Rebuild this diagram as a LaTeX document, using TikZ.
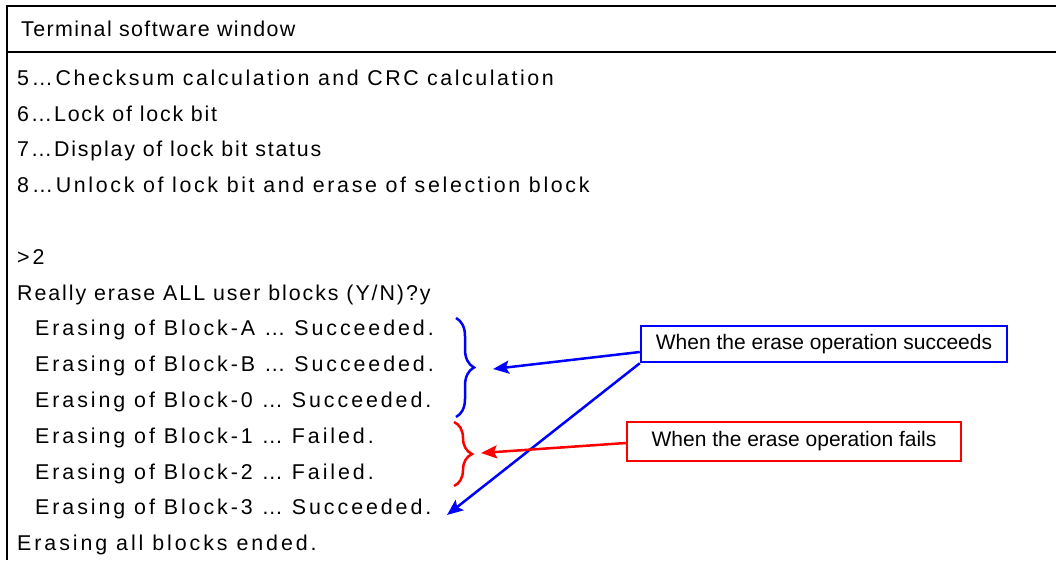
\documentclass[tikz,border=0pt]{standalone}
\usepackage{fontspec}
\setmainfont{Liberation Sans}
\newfontfamily\headfont[LetterSpace=6.5]{Liberation Sans}
\usetikzlibrary{arrows.meta,decorations.pathreplacing}

\tikzset{
  frame/.style={line width=2pt, black},
  termline/.style={anchor=base west, inner sep=0pt,
    font={\fontspec[LetterSpace=#1]{Liberation Sans}\fontsize{21.4pt}{25pt}\selectfont}},
  termline/.default=13.7,
  headline/.style={anchor=base west, inner sep=0pt,
    font=\headfont\fontsize{21.4pt}{25pt}\selectfont},
  callout/.style={rectangle, line width=2.5pt, inner sep=0pt, fill=white,
    font=\fontsize{21pt}{25pt}\selectfont},
  bracket/.style={line width=2.5pt, decorate,
    decoration={brace, amplitude=18pt, aspect=0.5}},
  pointer/.style={line width=2.5pt,
    -{Stealth[length=16pt, width=13pt, inset=3pt]}}
}

\begin{document}
\begin{tikzpicture}[x=1pt, y=-1pt]
  \useasboundingbox (0,0) rectangle (1056,560);

  % window frame and title bar
  \draw[frame] (1056,6) -- (7,6) -- (7,560);
  \draw[frame] (7,52) -- (1056,52);
  \node[headline] (title) at (21,36) {Terminal software window};

  % terminal output
  \node[termline=11.9] (m5) at (17,85.2)  {5…Checksum calculation and CRC calculation};
  \node[termline=8.4]  (m6) at (17,121)   {6…Lock of lock bit};
  \node[termline=8.4]  (m7) at (17,156.8) {7…Display of lock bit status};
  \node[termline=12.4] (m8) at (17,192.6) {8…Unlock of lock bit and erase of selection block};
  \node[termline] (cmd) at (17,264.2) {>2};
  \node[termline=9]   (ask) at (17,300)  {Really erase ALL user blocks (Y/N)?y};
  \node[termline] (bA) at (35,335.8)  {Erasing of Block-A … Succeeded.};
  \node[termline] (bB) at (35,371.6)  {Erasing of Block-B … Succeeded.};
  \node[termline] (b0) at (35,407.4)  {Erasing of Block-0 … Succeeded.};
  \node[termline] (b1) at (35,443.2)  {Erasing of Block-1 … Failed.};
  \node[termline] (b2) at (35,479)    {Erasing of Block-2 … Failed.};
  \node[termline] (b3) at (35,514.8)  {Erasing of Block-3 … Succeeded.};
  \node[termline] (done) at (17,550.6) {Erasing all blocks ended.};

  % braces grouping the results
  \coordinate (okTop) at (456,318);
  \coordinate (okBot) at (456,417);
  \coordinate (ngTop) at (454,422);
  \coordinate (ngBot) at (454,486);
  \draw[bracket, blue] (okTop) -- (okBot);
  \draw[bracket, red] (ngTop) -- (ngBot);

  % arrow targets
  \coordinate (okTip) at (493,369);
  \coordinate (ngTip) at (481,453);
  \coordinate (lastTip) at (447,515);

  % callouts
  \node[callout, draw=blue, minimum width=366pt, minimum height=36pt]
    (ok) at (824,344) {When the erase operation succeeds};
  \node[callout, draw=red, minimum width=334pt, minimum height=39pt]
    (ng) at (794,441.5) {When the erase operation fails};

  \draw[pointer, blue] ([yshift=-8pt]ok.west) -- (okTip);
  \draw[pointer, blue] (ok.south west) -- (lastTip);
  \draw[pointer, red] ([yshift=-1.5pt]ng.west) -- (ngTip);
\end{tikzpicture}
\end{document}
